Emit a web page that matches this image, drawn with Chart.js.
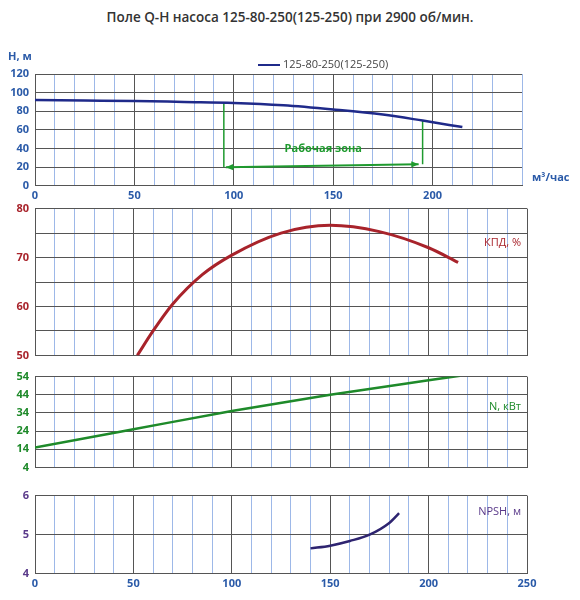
<!DOCTYPE html>
<html>
<head>
<meta charset="utf-8">
<script src="https://cdn.jsdelivr.net/npm/chart.js@4"></script>
<style>
  body { margin: 0; width: 580px; height: 600px; background: #fff; position: relative; font-family: "Open Sans", sans-serif; }
  .box { position: absolute; left: 0; width: 580px; }
  #title { position: absolute; top: 8px; left: 0; width: 580px; text-align: center; font-size: 13.5px; font-weight: 600; color: #333; }
</style>
</head>
<body>
<div id="title">Поле Q-H насоса 125-80-250(125-250) при 2900 об/мин.</div>
<div class="box" style="top:50px;height:155px"><canvas id="c1"></canvas></div>
<div class="box" style="top:196px;height:172px"><canvas id="c2"></canvas></div>
<div class="box" style="top:364px;height:116px"><canvas id="c3"></canvas></div>
<div class="box" style="top:483px;height:114px"><canvas id="c4"></canvas></div>
<script>
const headQ = [0, 25, 50, 75, 100, 125, 150, 175, 195, 215];
const headH = [92, 91.5, 91, 90, 89, 86.5, 82, 76.5, 70, 63];
const effQ = [52, 60, 70, 85, 100, 125, 150, 175, 200, 215];
const effV = [50, 55, 60.5, 66.5, 70.5, 75, 76.6, 75.3, 72, 69];
const powerQ = [0, 50, 100, 150, 200, 216];
const powerN = [15, 25, 35, 44, 52, 54.5];
const npshQ = [140, 150, 160, 170, 180, 185];
const npshV = [4.65, 4.72, 4.84, 5.0, 5.3, 5.55];
const zoneLeft = [{ x: 95, y: 89 }, { x: 95, y: 20 }];
const zoneRight = [{ x: 195, y: 70 }, { x: 195, y: 23 }];
const zoneArrow = [{ x: 96, y: 20 }, { x: 193, y: 23 }];
const zoneLabel = { x: 145, y: 40, text: "Рабочая зона" };

const FONT = "Open Sans";
const BLUE_TXT = "#2a5aa8";
const pts = (xs, ys) => xs.map((x, i) => ({ x, y: ys[i] }));

function xScale(showTicks, max) {
  return {
    type: "linear", min: 0, max: max,
    ticks: {
      display: showTicks, stepSize: 10, color: BLUE_TXT, font: { family: FONT, size: 11, weight: "bold" },
      callback: v => (v % 50 === 0 ? v : ""), autoSkip: false, maxRotation: 0
    },
    grid: { color: c => (c.tick && c.tick.value % 50 === 0 ? "#555" : "#9db8e8"), drawTicks: false },
    border: { color: "#555" }
  };
}

function yScale(min, max, step, color, labelEvery) {
  return {
    min, max,
    afterFit: s => { s.width = 35; },
    ticks: {
      stepSize: step, color, font: { family: FONT, size: 11, weight: "bold" }, padding: 6,
      callback: v => (labelEvery ? ((v - min) % labelEvery === 0 ? v : "") : v)
    },
    grid: { color: "#555", drawTicks: false },
    border: { color: "#555" }
  };
}

const cornerText = {
  id: "cornerText",
  afterDraw(chart, args, opts) {
    const ctx = chart.ctx, a = chart.chartArea;
    ctx.save();
    ctx.font = "11px " + FONT;
    ctx.fillStyle = opts.color;
    ctx.textAlign = "right";
    ctx.textBaseline = "middle";
    ctx.fillText(opts.text, a.right - 6, a.top + opts.dy);
    ctx.restore();
  }
};

function lineDs(data, color, width) {
  return { data, borderColor: color, borderWidth: width, pointRadius: 0, cubicInterpolationMode: "monotone", fill: false };
}

function baseOpts(extra) {
  return Object.assign({
    responsive: true, maintainAspectRatio: false, animation: false,
    plugins: { legend: { display: false }, tooltip: { enabled: false } }
  }, extra);
}

// panel 1: Q-H
const zonePlugin = {
  id: "zone",
  afterDatasetsDraw(chart) {
    const ctx = chart.ctx, xs = chart.scales.x, ys = chart.scales.y;
    const p0 = { x: xs.getPixelForValue(zoneArrow[0].x), y: ys.getPixelForValue(zoneArrow[0].y) };
    const p1 = { x: xs.getPixelForValue(zoneArrow[1].x), y: ys.getPixelForValue(zoneArrow[1].y) };
    ctx.save();
    ctx.fillStyle = "#1e9a2e";
    const head = (tip, from) => {
      const ang = Math.atan2(tip.y - from.y, tip.x - from.x);
      ctx.beginPath();
      ctx.moveTo(tip.x, tip.y);
      ctx.lineTo(tip.x - 8 * Math.cos(ang - 0.4), tip.y - 8 * Math.sin(ang - 0.4));
      ctx.lineTo(tip.x - 8 * Math.cos(ang + 0.4), tip.y - 8 * Math.sin(ang + 0.4));
      ctx.closePath();
      ctx.fill();
    };
    head(p0, p1); head(p1, p0);
    ctx.font = "bold 11px " + FONT;
    ctx.textAlign = "center";
    ctx.textBaseline = "middle";
    ctx.fillText(zoneLabel.text, xs.getPixelForValue(zoneLabel.x), ys.getPixelForValue(zoneLabel.y));
    // legend and axis captions
    const a = chart.chartArea;
    ctx.strokeStyle = "#1f2a8a"; ctx.lineWidth = 2;
    ctx.beginPath(); ctx.moveTo(258, a.top - 9); ctx.lineTo(280, a.top - 9); ctx.stroke();
    ctx.fillStyle = "#444"; ctx.font = "11px " + FONT; ctx.textAlign = "left";
    ctx.fillText("125-80-250(125-250)", 283, a.top - 9);
    ctx.fillStyle = BLUE_TXT; ctx.font = "bold 11px " + FONT;
    ctx.fillText("H, м", 8, a.top - 17);
    ctx.fillText("м³/час", a.right + 10, a.bottom - 8);
    ctx.restore();
  }
};

new Chart(document.getElementById("c1"), {
  type: "line",
  data: {
    datasets: [
      lineDs(pts(headQ, headH), "#1f2a8a", 2.5),
      { data: zoneLeft, borderColor: "#1e9a2e", borderWidth: 1.5, pointRadius: 0 },
      { data: zoneRight, borderColor: "#1e9a2e", borderWidth: 1.5, pointRadius: 0 },
      { data: zoneArrow, borderColor: "#1e9a2e", borderWidth: 2, pointRadius: 0 }
    ]
  },
  options: baseOpts({
    layout: { padding: { top: 24, right: 58, left: 0, bottom: 0 } },
    scales: { x: xScale(true, 245), y: yScale(0, 120, 20, BLUE_TXT) }
  }),
  plugins: [zonePlugin]
});

new Chart(document.getElementById("c2"), {
  type: "line",
  data: { datasets: [lineDs(pts(effQ, effV), "#a8232b", 3)] },
  options: baseOpts({
    layout: { padding: { top: 8, right: 53, bottom: 5 } },
    scales: { x: xScale(false, 250), y: yScale(50, 80, 5, "#a8232b", 10) },
    plugins: { legend: { display: false }, tooltip: { enabled: false }, cornerText: { text: "КПД, %", color: "#a8232b", dy: 34 } }
  }),
  plugins: [cornerText]
});

new Chart(document.getElementById("c3"), {
  type: "line",
  data: { datasets: [lineDs(pts(powerQ, powerN), "#1e8a2a", 2.5)] },
  options: baseOpts({
    layout: { padding: { top: 8, right: 53, bottom: 4 } },
    scales: { x: xScale(false, 250), y: yScale(4, 54, 10, "#1e8a2a") },
    plugins: { legend: { display: false }, tooltip: { enabled: false }, cornerText: { text: "N, кВт", color: "#1e8a2a", dy: 30 } }
  }),
  plugins: [cornerText]
});

new Chart(document.getElementById("c4"), {
  type: "line",
  data: { datasets: [lineDs(pts(npshQ, npshV), "#2e2470", 2.5)] },
  options: baseOpts({
    layout: { padding: { top: 6, right: 53, bottom: 4 } },
    scales: { x: xScale(true, 250), y: yScale(4, 6, 1, "#5a3a8a") },
    plugins: { legend: { display: false }, tooltip: { enabled: false }, cornerText: { text: "NPSH, м", color: "#5a3a8a", dy: 16 } }
  }),
  plugins: [cornerText]
});
</script>
</body>
</html>
